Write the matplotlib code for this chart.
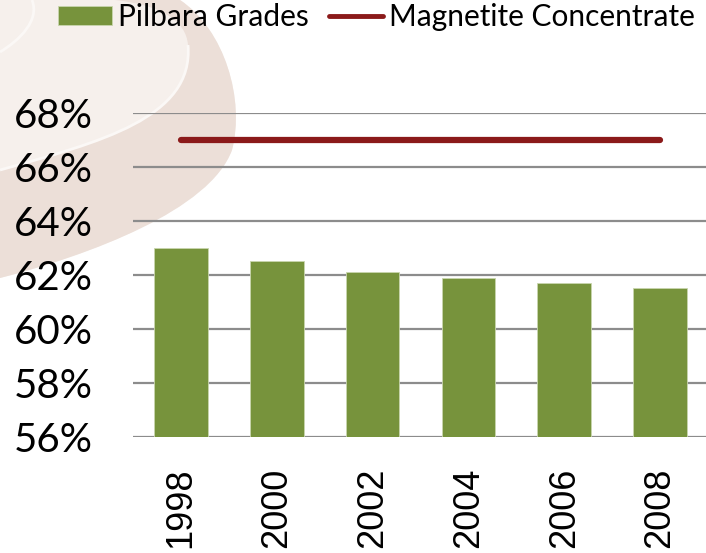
import numpy as np
import matplotlib.pyplot as plt
from matplotlib.path import Path
from matplotlib.patches import PathPatch
from matplotlib.ticker import FuncFormatter

years = ['1998', '2000', '2002', '2004', '2006', '2008']
pilbara = [63.0, 62.5, 62.1, 61.9, 61.7, 61.5]
magnetite = [67.0, 67.0, 67.0, 67.0, 67.0, 67.0]
yticks = [56, 58, 60, 62, 64, 66, 68]

W, H = 706, 553
fig = plt.figure(figsize=(W / 100, H / 100), dpi=100)


# background swoosh, drawn in pixel coords (y down) then mapped to figure coords
def px_path(verts, codes):
    v = [(x / W, 1 - y / H) for x, y in verts]
    return Path(v, codes)


M, L, C = Path.MOVETO, Path.LINETO, Path.CURVE4
light = px_path(
    [(0, 0), (180, 0),
     (225, 30), (245, 100), (232, 150),
     (210, 210), (90, 255), (0, 278),
     (0, 0)],
    [M, L, C, C, C, C, C, C, L])
fig.patches.append(PathPatch(light, transform=fig.transFigure, fc='#F6F0EC', ec='none', zorder=-2))
band = px_path(
    [(115, 0), (180, 0),
     (225, 30), (245, 100), (232, 150),
     (210, 210), (90, 255), (0, 278),
     (0, 170),
     (100, 142), (194, 118), (188, 45),
     (186, 20), (160, 5), (115, 0)],
    [M, L, C, C, C, C, C, C, L, C, C, C, C, C, C])
fig.patches.append(PathPatch(band, transform=fig.transFigure, fc='#ECDFD8', ec='none', zorder=-2))
arc = px_path([(0, 170), (100, 142), (194, 118), (188, 45)], [M, C, C, C])
fig.patches.append(PathPatch(arc, transform=fig.transFigure, fc='none', ec='#FBF8F6', lw=2, zorder=-1))
arc2 = px_path([(32, 0), (40, 20), (20, 40), (0, 52)], [M, C, C, C])
fig.patches.append(PathPatch(arc2, transform=fig.transFigure, fc='none', ec='#FBF8F6', lw=2, zorder=-1))

ax = fig.add_axes([133 / W, (H - 437) / H, 575 / W, 324 / H])
ax.set_zorder(1)
ax.patch.set_alpha(0)
x = np.arange(len(years))
bars = ax.bar(x, pilbara, width=0.56, color='#77933C', edgecolor='#C9D6AE', lw=0.6,
              label='Pilbara Grades', zorder=2)
line, = ax.plot(x, magnetite, color='#8B1A1A', lw=4.5, solid_capstyle='round',
                label='Magnetite Concentrate', zorder=3)

ax.set_xlim(-0.5, 5.5)
ax.set_ylim(56, 68)
ax.set_yticks(yticks)
ax.yaxis.set_major_formatter(FuncFormatter(lambda v, p: f'{v:.0f}%'))
ax.set_xticks(x)
ax.set_xticklabels(years, rotation=90, fontsize=26, family='Liberation Sans', va='top')
for t in ax.get_yticklabels():
    t.set_fontsize(29)
    t.set_family('Lato')
ax.tick_params(axis='both', length=0)
ax.tick_params(axis='y', pad=29)
ax.tick_params(axis='x', pad=22)
ax.grid(axis='y', color='#8C8C8C', lw=1.6, zorder=1)
ax.set_axisbelow(True)
for s in ax.spines.values():
    s.set_visible(False)

leg = fig.legend(handles=[bars, line], loc='upper left', bbox_to_anchor=(55 / W, 1.0), ncol=2,
                 frameon=False, prop={'family': 'Lato', 'size': 21.5}, handlelength=1.8,
                 handleheight=0.65, columnspacing=0.7, handletextpad=0.2, borderaxespad=0.0,
                 borderpad=0.1)
leg.get_lines()[0].set_linewidth(3.5)
leg.set_zorder(2)

fig.savefig('out.png', dpi=100)
